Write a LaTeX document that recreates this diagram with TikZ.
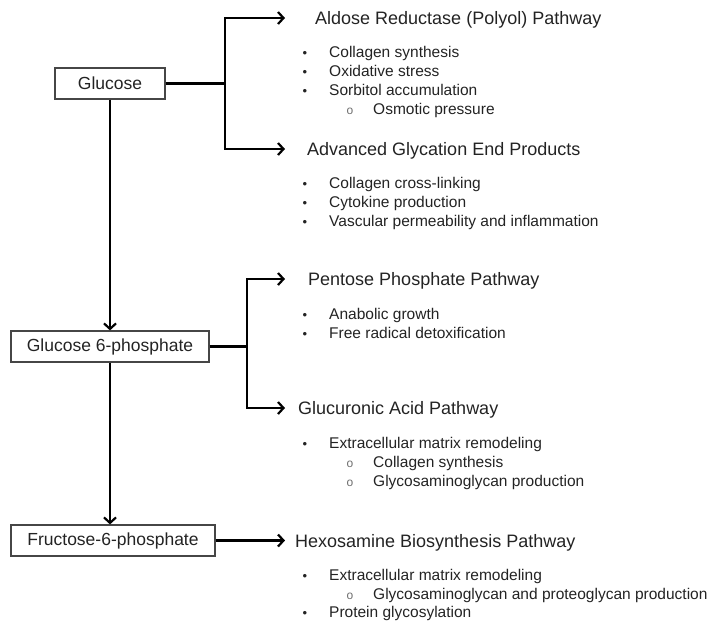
\documentclass[tikz,border=0pt]{standalone}
\usepackage{fontspec}
\setmainfont{Liberation Sans}
\usetikzlibrary{arrows.meta}
\definecolor{txt}{RGB}{35,35,35}
\definecolor{boxgray}{RGB}{70,70,70}
\definecolor{subgray}{RGB}{110,110,110}

\begin{document}
\begin{tikzpicture}[x=1pt,y=-1pt,
    stepbox/.style={draw=boxgray,line width=1.2pt,minimum height=31pt,inner sep=0pt,text=txt,font=\fontsize{17.5}{20}\selectfont},
    link/.style={line width=2.4pt},
    arr/.style={line width=2.4pt,-{Straight Barb[length=5.5pt,width=12pt,line width=2.2pt]}},
    head/.style={anchor=base west,inner sep=0pt,text=txt,font=\fontsize{18}{20}\selectfont},
    item/.style={anchor=base west,inner sep=0pt,text=txt,font=\fontsize{15.5}{18}\selectfont},
    dot/.style={anchor=base,inner sep=0pt,text=txt,font=\fontsize{13}{14}\selectfont},
    ring/.style={anchor=base,inner sep=0pt,text=subgray,font=\fontsize{12}{12}\selectfont}]
    \useasboundingbox (0,0) rectangle (712,622);

    % Boxes
    \node[stepbox,minimum width=110pt] (glc) at (110,83.5) {Glucose};
    \node[stepbox,minimum width=198pt] (g6p) at (110,346.5) {Glucose 6-phosphate};
    \node[stepbox,minimum width=204pt] (f6p) at (113,540.5) {Fructose-6-phosphate};

    % Forks and arrow ends
    \coordinate (glcfork) at (225,83.5);
    \coordinate (g6pfork) at (247,346.5);
    \coordinate (aldtip) at (285,18);
    \coordinate (agetip) at (285,149);
    \coordinate (pentip) at (285,279);
    \coordinate (glutip) at (285,408);
    \coordinate (hextip) at (285,540.5);

    % Connectors
    \draw[link] (glc.east) -- (glcfork);
    \draw[arr] (glcfork) |- (aldtip);
    \draw[arr] (glcfork) |- (agetip);
    \draw[link] (g6p.east) -- (g6pfork);
    \draw[arr] (g6pfork) |- (pentip);
    \draw[arr] (g6pfork) |- (glutip);
    \draw[arr] (f6p.east) -- (hextip);
    \draw[arr] (glc.south) -- (g6p.north);
    \draw[arr] (g6p.south) -- (g6p.south |- f6p.north);

    % Aldose reductase
    \node[head] (ald) at (315,24.5) {Aldose Reductase (Polyol) Pathway};
    \node[dot] (ald1b) at (305,57.5) {•};
    \node[item] (ald1) at (329,57.5) {Collagen synthesis};
    \node[dot] (ald2b) at (305,76.5) {•};
    \node[item] (ald2) at (329,76.5) {Oxidative stress};
    \node[dot] (ald3b) at (305,95.5) {•};
    \node[item] (ald3) at (329,95.5) {Sorbitol accumulation};
    \node[ring] (ald4b) at (350,114.5) {o};
    \node[item] (ald4) at (373,114.5) {Osmotic pressure};

    % AGEs
    \node[head] (age) at (307,155.5) {Advanced Glycation End Products};
    \node[dot] (age1b) at (305,188.5) {•};
    \node[item] (age1) at (329,188.5) {Collagen cross-linking};
    \node[dot] (age2b) at (305,207.5) {•};
    \node[item] (age2) at (329,207.5) {Cytokine production};
    \node[dot] (age3b) at (305,226.5) {•};
    \node[item] (age3) at (329,226.5) {Vascular permeability and inflammation};

    % Pentose phosphate
    \node[head] (pen) at (308,285.5) {Pentose Phosphate Pathway};
    \node[dot] (pen1b) at (305,319) {•};
    \node[item] (pen1) at (329,319) {Anabolic growth};
    \node[dot] (pen2b) at (305,338.5) {•};
    \node[item] (pen2) at (329,338.5) {Free radical detoxification};

    % Glucuronic acid
    \node[head] (glu) at (298,414.5) {Glucuronic Acid Pathway};
    \node[dot] (glu1b) at (305,448.5) {•};
    \node[item] (glu1) at (329,448.5) {Extracellular matrix remodeling};
    \node[ring] (glu2b) at (350,467.5) {o};
    \node[item] (glu2) at (373,467.5) {Collagen synthesis};
    \node[ring] (glu3b) at (350,486.5) {o};
    \node[item] (glu3) at (373,486.5) {Glycosaminoglycan production};

    % Hexosamine
    \node[head] (hex) at (295,547) {Hexosamine Biosynthesis Pathway};
    \node[dot] (hex1b) at (305,580.5) {•};
    \node[item] (hex1) at (329,580.5) {Extracellular matrix remodeling};
    \node[ring] (hex2b) at (350,599) {o};
    \node[item] (hex2) at (373,599) {Glycosaminoglycan and proteoglycan production};
    \node[dot] (hex3b) at (305,617) {•};
    \node[item] (hex3) at (329,617) {Protein glycosylation};
\end{tikzpicture}
\end{document}
